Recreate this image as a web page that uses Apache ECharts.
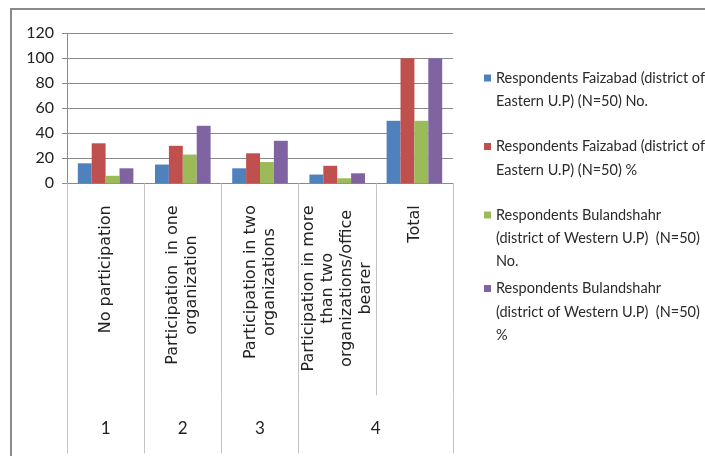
<!DOCTYPE html>
<html>
<head>
<meta charset="utf-8">
<script src="https://cdn.jsdelivr.net/npm/echarts@6.0.0/dist/echarts.min.js"></script>
<style>
  html, body { margin: 0; padding: 0; background: #fff; }
  #wrap { position: relative; width: 705px; height: 456px; overflow: hidden; }
  #frame { position: absolute; left: 10px; top: 8px; width: 720px; height: 470px;
           border-top: 2px solid #8a8a8a; border-left: 2px solid #8a8a8a; }
  #chart { position: absolute; left: 0; top: 0; width: 705px; height: 456px; }
</style>
</head>
<body>
<div id="wrap">
  <div id="frame"></div>
  <div id="chart"></div>
</div>
<script>
// ---- data ----
const categories = [
  'No participation',
  'Participation  in one\norganization',
  'Participation in two\norganizations',
  'Participation in more\nthan two\norganizations/office\nbearer',
  'Total'
];
const groupLabels = ['1', '2', '3', '4'];
const groupSpans = [1, 1, 1, 2];          // number of categories each group covers
const seriesNames = [
  'Respondents Faizabad (district of\nEastern U.P) (N=50) No.',
  'Respondents Faizabad (district of\nEastern U.P) (N=50) %',
  'Respondents Bulandshahr\n(district of Western U.P)  (N=50)\nNo.',
  'Respondents Bulandshahr\n(district of Western U.P)  (N=50)\n%'
];
const faizabadNo  = [16, 15, 12, 7, 50];
const faizabadPct = [32, 30, 24, 14, 100];
const bulandNo    = [6, 23, 17, 4, 50];
const bulandPct   = [12, 46, 34, 8, 100];
const yTicks = [0, 20, 40, 60, 80, 100, 120];

// ---- styling ----
const colors = ['#4F81BD', '#C0504D', '#9BBB59', '#8064A2'];
const seriesData = [faizabadNo, faizabadPct, bulandNo, bulandPct];
const humanist = 'Lato, "Noto Sans", sans-serif';
const wide = '"DejaVu Sans", Verdana, sans-serif';

// group axis (half-category points)
const nPoints = categories.length * 2 + 1;
const groupAxisData = new Array(nPoints).fill('');
const groupTickIdx = [0];
let start = 0;
groupLabels.forEach((g, i) => {
  groupAxisData[start * 2 + groupSpans[i]] = g;
  start += groupSpans[i];
  groupTickIdx.push(start * 2);
});

// legends: one per item, first text line aligned with the marker
const legendLH = 23.4;
const legendFirstLine = [78, 146.5, 215, 288.5];
const legends = seriesNames.map((name, i) => {
  const n = name.split('\n').length;
  const padLines = n - 1;
  return {
    orient: 'vertical',
    left: 484,
    top: legendFirstLine[i] - legendLH / 2 - padLines * legendLH,
    padding: 0,
    itemWidth: 7,
    itemHeight: 7,
    icon: 'rect',
    selectedMode: false,
    data: [name],
    formatter: nm => ' \n'.repeat(padLines) + nm,
    textStyle: { fontFamily: humanist, fontSize: 14.5, color: '#2a2a2a', lineHeight: legendLH }
  };
});

const chart = echarts.init(document.getElementById('chart'), null, { renderer: 'canvas' });
chart.setOption({
  animation: false,
  color: colors,
  legend: legends,
  grid: { left: 67, top: 33.3, width: 386, height: 150, containLabel: false },
  xAxis: [
    {
      type: 'category',
      data: categories,
      axisLine: { show: true, lineStyle: { color: '#8a8a8a', width: 1 } },
      axisTick: { show: true, interval: 0, length: 212, lineStyle: { color: '#c4c4c4' } },
      axisLabel: {
        interval: 0, rotate: 90, margin: 22,
        fontFamily: wide, fontSize: 16, lineHeight: 19, color: '#222',
        formatter: v => v.split('\n').map(l => '{c|' + l + '}').join('\n'),
        rich: { c: { align: 'center', fontFamily: wide, fontSize: 16, lineHeight: 19, color: '#222' } }
      },
      splitLine: { show: false }
    },
    {
      type: 'category',
      gridIndex: 0,
      position: 'bottom',
      offset: 212,
      boundaryGap: false,
      data: groupAxisData,
      axisLine: { show: false },
      axisTick: { show: true, length: 58, interval: (idx) => groupTickIdx.indexOf(idx) >= 0,
                  lineStyle: { color: '#c4c4c4' } },
      axisLabel: { interval: 0, margin: 25, fontFamily: humanist, fontSize: 17, color: '#222' },
      splitLine: { show: false }
    }
  ],
  yAxis: {
    type: 'value',
    min: yTicks[0],
    max: yTicks[yTicks.length - 1],
    interval: yTicks[1] - yTicks[0],
    axisLine: { show: true, lineStyle: { color: '#8a8a8a' } },
    axisTick: { show: true, length: 5, lineStyle: { color: '#8a8a8a' } },
    axisLabel: { margin: 13, fontFamily: humanist, fontSize: 16, color: '#222' },
    splitLine: { show: true, lineStyle: { color: '#8a8a8a', width: 1 } }
  },
  series: seriesData.map((d, i) => ({
    type: 'bar',
    name: seriesNames[i],
    xAxisIndex: 0,
    data: d,
    barGap: '0%',
    barCategoryGap: '28%',
    itemStyle: { color: colors[i] }
  }))
});
</script>
</body>
</html>
